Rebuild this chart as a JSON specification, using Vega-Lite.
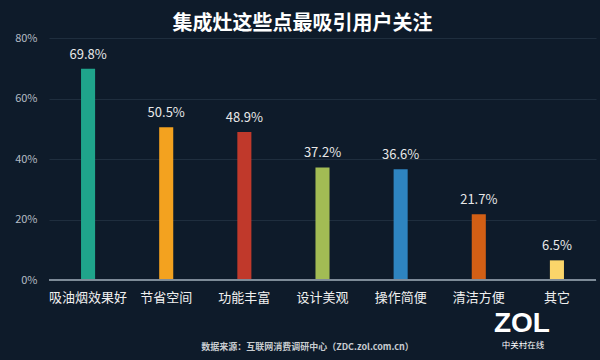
{
  "$schema": "https://vega.github.io/schema/vega-lite/v6.json",
  "width": 547,
  "height": 242,
  "autosize": {"type": "none"},
  "padding": {"left": 49, "top": 38, "right": 4, "bottom": 80},
  "background": "#0e1b2a",
  "config": {
    "view": {"stroke": null},
    "font": "Noto Sans CJK SC"
  },
  "title": {
    "text": "集成灶这些点最吸引用户关注",
    "fontSize": 20,
    "fontWeight": "bold",
    "color": "#ffffff",
    "anchor": "middle",
    "dx": -20,
    "offset": -2
  },
  "data": {
    "values": [
      {"item": "吸油烟效果好", "pct": 69.8, "label": "69.8%"},
      {"item": "节省空间", "pct": 50.5, "label": "50.5%"},
      {"item": "功能丰富", "pct": 48.9, "label": "48.9%"},
      {"item": "设计美观", "pct": 37.2, "label": "37.2%"},
      {"item": "操作简便", "pct": 36.6, "label": "36.6%"},
      {"item": "清洁方便", "pct": 21.7, "label": "21.7%"},
      {"item": "其它", "pct": 6.5, "label": "6.5%"}
    ]
  },
  "encoding": {
    "x": {
      "field": "item",
      "type": "nominal",
      "sort": null,
      "scale": {"paddingInner": 0.82, "paddingOuter": 0.41},
      "axis": {
        "title": "数据来源：互联网消费调研中心（ZDC.zol.com.cn）",
        "titleFontSize": 9,
        "titleFontWeight": "bold",
        "titleColor": "#c8ccd0",
        "titlePadding": 38,
        "titleX": 258,
        "labelAngle": 0,
        "labelFontSize": 13,
        "labelColor": "#f0f0f0",
        "labelPadding": 11,
        "ticks": false,
        "domain": false
      }
    },
    "y": {
      "field": "pct",
      "type": "quantitative",
      "scale": {"domain": [0, 80]},
      "axis": {
        "title": null,
        "values": [0, 20, 40, 60, 80],
        "labelExpr": "datum.value + '%'",
        "labelFontSize": 11,
        "labelColor": "#b4bcc4",
        "labelPadding": 12,
        "ticks": false,
        "domain": false,
        "grid": true,
        "gridColor": "#1f2e3e",
        "gridWidth": 1
      }
    }
  },
  "layer": [
    {
      "mark": {"type": "bar"},
      "encoding": {
        "color": {
          "field": "item",
          "type": "nominal",
          "sort": null,
          "scale": {
            "domain": ["吸油烟效果好", "节省空间", "功能丰富", "设计美观", "操作简便", "清洁方便", "其它"],
            "range": ["#1fa48b", "#f3a21f", "#c0392b", "#a2bc54", "#2e84c0", "#d25f15", "#fbd56a"]
          },
          "legend": null
        }
      }
    },
    {
      "mark": {"type": "rule", "color": "#7f8b98", "strokeWidth": 1},
      "encoding": {"y": {"datum": 0}, "x": {"value": 0}, "x2": {"value": 547}}
    },
    {
      "mark": {"type": "text", "baseline": "bottom", "dy": -7, "fontSize": 13, "color": "#e8e8e8"},
      "encoding": {"text": {"field": "label"}}
    },
    {
      "transform": [{"filter": "datum.item == '其它'"}],
      "mark": {"type": "text", "fontSize": 28, "fontWeight": "bold", "color": "#ffffff", "dx": -35, "baseline": "middle", "font": "Liberation Sans", "clip": false},
      "encoding": {"y": {"datum": -14.4}, "text": {"value": "ZOL"}}
    },
    {
      "transform": [{"filter": "datum.item == '其它'"}],
      "mark": {"type": "text", "fontSize": 8.5, "color": "#ffffff", "dx": -34, "baseline": "middle", "letterSpacing": 5, "clip": false},
      "encoding": {"y": {"datum": -21.6}, "text": {"value": "中关村在线"}}
    }
  ]
}
